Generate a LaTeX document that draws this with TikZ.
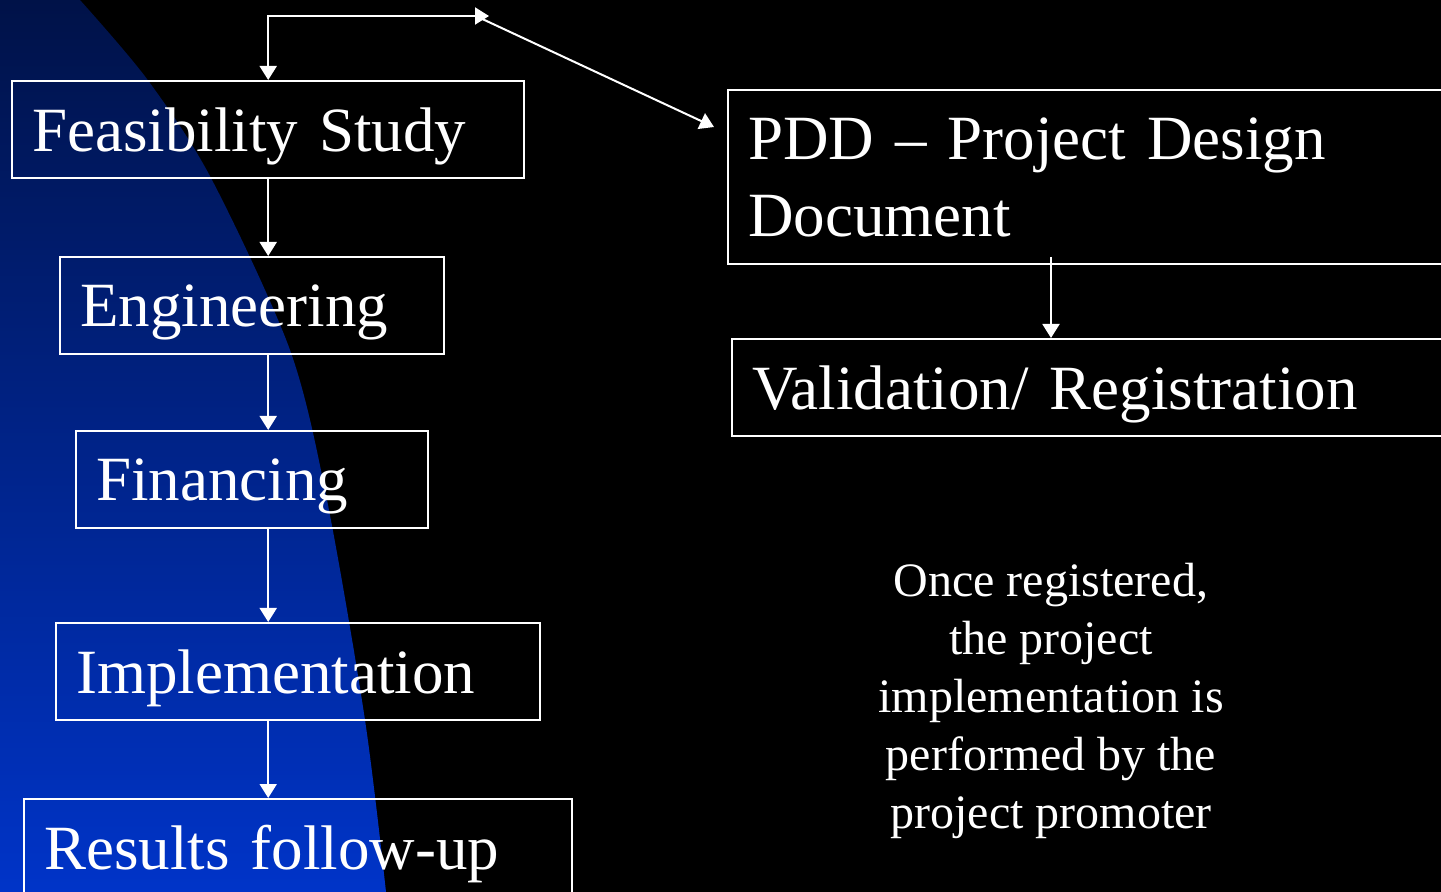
\documentclass[tikz,border=0pt]{standalone}
\usepackage{fontspec}
\setmainfont{Liberation Serif}
\usetikzlibrary{arrows.meta,calc}
\definecolor{navytop}{RGB}{0,18,72}
\definecolor{bluebot}{RGB}{0,52,200}
\tikzset{
  box/.style={draw=white, line width=1.2pt, text=white, anchor=north west,
    align=left, inner xsep=10pt, inner ysep=0pt, minimum height=48.5pt,
    font=\fontsize{31.5}{38.5}\selectfont},
  onebox/.style={box, text depth=0pt},
  conn/.style={draw=white, line width=1pt, -{Triangle[width=8.5pt,length=7pt]}},
  conn2/.style={draw=white, line width=1pt, {Triangle[width=8.5pt,length=7pt]}-{Triangle[width=8.5pt,length=7pt]}},
  note/.style={text=white, align=center, font=\fontsize{24}{29}\selectfont}
}
\begin{document}
\begin{tikzpicture}[x=0.5pt,y=-0.5pt]
\useasboundingbox (0,0) rectangle (1441,892);
\clip (0,0) rectangle (1441,892);
\fill[black] (0,0) rectangle (1441,892);
\shade[top color=navytop, bottom color=bluebot]
  (0,0) -- plot[smooth] coordinates {(80,0) (147,79) (211,178) (290,350) (327,500) (365,720) (386,892)} -- (0,892) -- cycle;

\node[onebox, text width=236pt] (fs) at (11,80) {Feasibility Study};
\node[onebox, text width=172pt] (eng) at (59,256) {Engineering};
\node[onebox, text width=156pt] (fin) at (75,430) {Financing};
\node[onebox, text width=222pt] (imp) at (55,622) {Implementation};
\node[onebox, text width=254pt] (res) at (23,798) {Results follow-up};
\node[box, text width=350pt, minimum height=87pt] (pdd) at (727,89) {PDD -- Project Design\\Document};
\node[onebox, text width=350pt] (val) at (731,338) {Validation/ Registration};

\node[note] (once) at (1051,701) {Once registered,\\the project\\implementation is\\performed by the\\project promoter};

\coordinate (tr) at (489,16);
\coordinate (ds) at (478,17);
\coordinate (pe) at (714,127);
\coordinate (pv) at (1051,257);

\draw[conn2] (fs.north) |- (tr);
\draw[conn] (ds) -- (pe);
\draw[conn] (fs.south) -- (fs.south |- eng.north);
\draw[conn] (fs.south |- eng.south) -- (fs.south |- fin.north);
\draw[conn] (fs.south |- fin.south) -- (fs.south |- imp.north);
\draw[conn] (fs.south |- imp.south) -- (fs.south |- res.north);
\draw[conn] (pv) -- (pv |- val.north);
\end{tikzpicture}
\end{document}
